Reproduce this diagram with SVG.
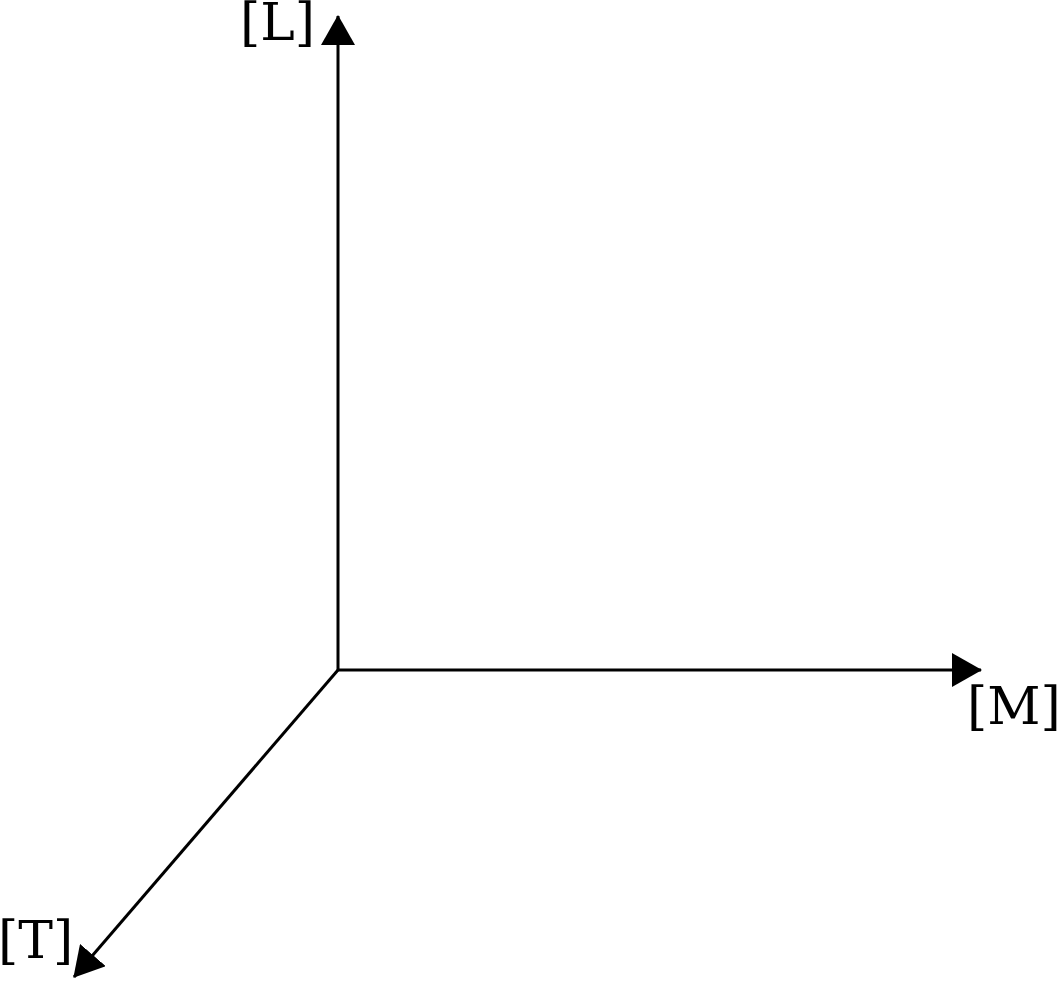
<svg xmlns="http://www.w3.org/2000/svg" width="1064" height="982" viewBox="0 0 1064 982">
<style>
.axis{stroke:#000;stroke-width:3;fill:none}
.lbl{font-family:'DejaVu Serif',serif;font-size:52px;fill:#000}
</style>
<defs>
<marker id="ah" markerUnits="userSpaceOnUse" markerWidth="30" markerHeight="34" refX="29" refY="17" orient="auto" viewBox="0 0 30 34">
<path d="M0,0 L30,17 L0,34 Z" fill="#000"/>
</marker>
</defs>
<rect width="1064" height="982" fill="#fff"/>
<g id="connectors">
<line class="axis" x1="338" y1="671" x2="338" y2="16" marker-end="url(#ah)"/>
<line class="axis" x1="337" y1="670" x2="981" y2="670" marker-end="url(#ah)"/>
<line class="axis" x1="338" y1="670" x2="74" y2="977" marker-end="url(#ah)"/>
</g>
<g id="label-L"><text class="lbl" x="240" y="40">[L]</text></g>
<g id="label-M"><text class="lbl" x="967" y="724">[M]</text></g>
<g id="label-T"><text class="lbl" x="-2" y="958">[T]</text></g>
</svg>
